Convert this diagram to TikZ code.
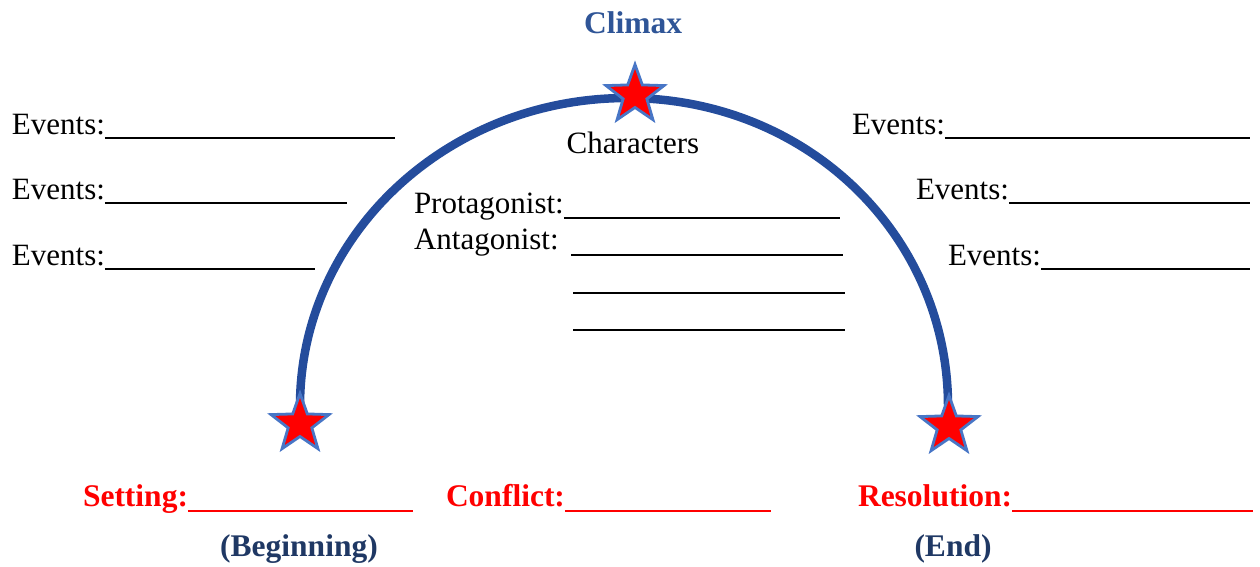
\documentclass[tikz,border=0pt]{standalone}
\usepackage{fontspec}
\setmainfont{Liberation Serif}
\usetikzlibrary{shapes.geometric}
\definecolor{arcblue}{RGB}{36,76,156}
\definecolor{starblue}{RGB}{72,118,198}
\definecolor{climaxblue}{RGB}{47,85,151}
\definecolor{navyblue}{RGB}{31,56,100}
\definecolor{pred}{RGB}{255,0,0}
\tikzset{
  txt/.style={inner sep=0pt, outer sep=0pt, anchor=base west, font=\fontsize{31}{36}\selectfont},
  ctxt/.style={inner sep=0pt, outer sep=0pt, anchor=base, font=\fontsize{31}{36}\selectfont},
  redtxt/.style={txt, font=\fontsize{31.5}{36}\selectfont\bfseries, text=pred},
  navytxt/.style={ctxt, font=\fontsize{31.5}{36}\selectfont\bfseries, text=navyblue},
  ul/.style={line width=1.4pt, black},
  redul/.style={line width=1.6pt, pred},
  arcline/.style={line width=8.5pt, arcblue},
  starnode/.style={star, star points=5, star point ratio=2.45, minimum size=61pt, inner sep=0pt,
                   fill=pred, draw=starblue, line width=2.8pt}
}
\begin{document}
\begin{tikzpicture}[x=1pt,y=-1pt]
\useasboundingbox (0,0) rectangle (1260,566);

% arc
\coordinate (aL) at (300,406);
\coordinate (aT) at (627,98);
\coordinate (aR) at (948,406);
\draw[arcline] (aL) .. controls (300,236) and (446,98) .. (aT)
                    .. controls (808,98) and (948,236) .. (aR);

% stars
\node[starnode] (sT) at (635,95) {};
\node[starnode] (sL) at (300,424) {};
\node[starnode] (sR) at (949,426) {};

% titles
\node[ctxt, font=\fontsize{31.5}{36}\selectfont\bfseries, text=climaxblue] (climax) at (633,33) {Climax};
\node[ctxt] (chars) at (633,153) {Characters};

% left events
\node[txt] (eL1) at (12,134) {Events:};
\node[txt] (eL2) at (12,199) {Events:};
\node[txt] (eL3) at (12,265) {Events:};
\coordinate (eL1r) at (395,138);
\coordinate (eL2r) at (347,203);
\coordinate (eL3r) at (315,269);
\draw[ul] (eL1.base east |- eL1r) -- (eL1r);
\draw[ul] (eL2.base east |- eL2r) -- (eL2r);
\draw[ul] (eL3.base east |- eL3r) -- (eL3r);

% right events
\node[txt] (eR1) at (852,134) {Events:};
\node[txt] (eR2) at (916,199) {Events:};
\node[txt] (eR3) at (948,265) {Events:};
\coordinate (eR1r) at (1250,138);
\coordinate (eR2r) at (1250,203);
\coordinate (eR3r) at (1250,269);
\draw[ul] (eR1.base east |- eR1r) -- (eR1r);
\draw[ul] (eR2.base east |- eR2r) -- (eR2r);
\draw[ul] (eR3.base east |- eR3r) -- (eR3r);

% characters
\node[txt] (prot) at (414,213) {Protagonist:};
\node[txt] (anta) at (414,249) {Antagonist:};
\coordinate (protr) at (840,218);
\draw[ul] (prot.base east |- protr) -- (protr);
\coordinate (ant1) at (571,255);
\coordinate (ant2) at (843,255);
\draw[ul] (ant1) -- (ant2);
\coordinate (x1a) at (573,293);
\coordinate (x1b) at (845,293);
\draw[ul] (x1a) -- (x1b);
\coordinate (x2a) at (573,330);
\coordinate (x2b) at (845,330);
\draw[ul] (x2a) -- (x2b);

% bottom
\node[redtxt] (set) at (83,506) {Setting:};
\coordinate (setr) at (413,511);
\draw[redul] (set.base east |- setr) -- (setr);
\node[redtxt] (conf) at (446,506) {Conflict:};
\coordinate (confr) at (771,511);
\draw[redul] (conf.base east |- confr) -- (confr);
\node[redtxt] (reso) at (858,506) {Resolution:};
\coordinate (resor) at (1253,511);
\draw[redul] (reso.base east |- resor) -- (resor);

\node[navytxt] (beg) at (299,556) {(Beginning)};
\node[navytxt] (endn) at (953,556) {(End)};
\end{tikzpicture}
\end{document}
